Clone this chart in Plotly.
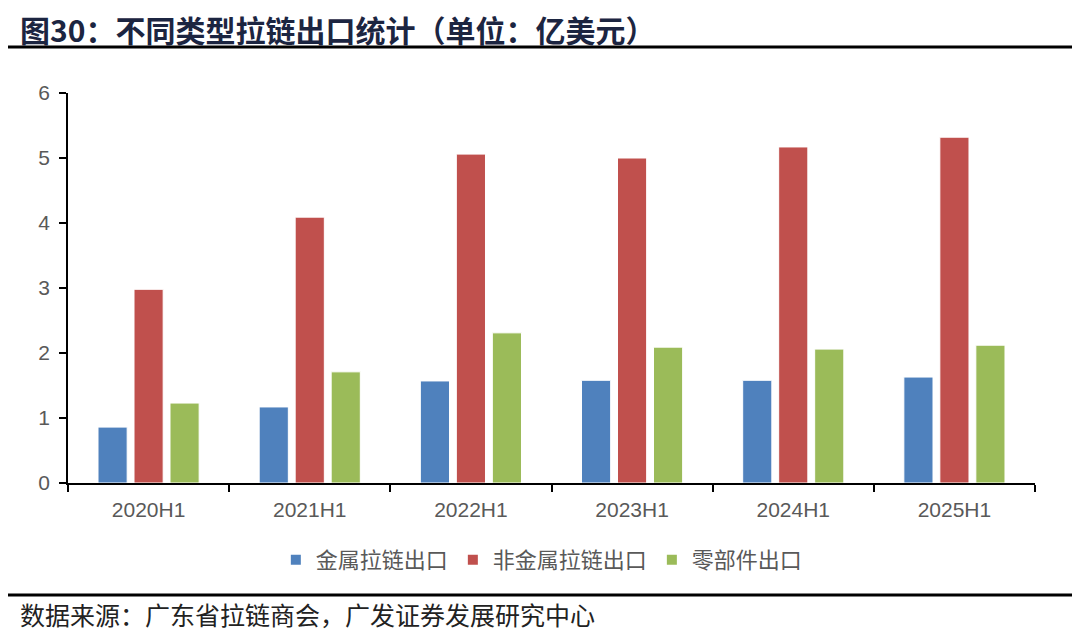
import plotly.graph_objects as go

categories = ["2020H1", "2021H1", "2022H1", "2023H1", "2024H1", "2025H1"]
metal = [0.86, 1.17, 1.57, 1.58, 1.58, 1.63]
nonmetal = [2.98, 4.09, 5.06, 5.00, 5.17, 5.32]
parts = [1.23, 1.71, 2.31, 2.09, 2.06, 2.12]
series_names = ["金属拉链出口", "非金属拉链出口", "零部件出口"]
colors = ["#4F81BD", "#C0504D", "#9BBB59"]
y_ticks = [0, 1, 2, 3, 4, 5, 6]

fig = go.Figure()
for name, vals, c in zip(series_names, [metal, nonmetal, parts], colors):
    fig.add_trace(go.Bar(x=categories, y=vals, name=name,
                         marker=dict(color=c, line=dict(color="white", width=1))))

OFF = 8  # page body margin offset
W, H = 1080, 643
# desired screen positions
left_px, right_px, top_px, bot_px = 68, 1035, 93, 483
ml = left_px - OFF
mt = top_px - OFF
mr = W - (right_px - OFF)
mb = H - (bot_px - OFF)
ph = H - mt - mb
pw = W - ml - mr

def py(px):
    return (H - (px - OFF) - mb) / ph

def pxx(px):
    return ((px - OFF) - ml) / pw

fig.update_layout(
    width=W, height=H,
    margin=dict(l=ml, r=mr, t=mt, b=mb),
    paper_bgcolor="white", plot_bgcolor="white",
    barmode="group", bargap=0.33, bargroupgap=0.19,
    font=dict(family="Liberation Sans, Arial", color="#595959", size=21),
    legend=dict(orientation="h", x=0.49, xanchor="center", y=py(560), yanchor="middle",
                font=dict(family="Noto Sans CJK SC", size=22, color="#595959"),
                itemsizing="constant", traceorder="normal", itemwidth=30),
    xaxis=dict(showline=True, linecolor="black", linewidth=1.5, ticks="outside",
               tickson="boundaries", ticklen=7, tickcolor="black", tickwidth=1.5,
               ticklabelstandoff=7,
               tickfont=dict(size=21, color="#595959")),
    yaxis=dict(range=[0, 6], tickvals=y_ticks, showline=True, linecolor="black", linewidth=1.5,
               ticks="outside", ticklen=7, tickcolor="black", tickwidth=1.5, showgrid=False,
               ticklabelstandoff=5,
               zeroline=False, tickfont=dict(size=21, color="#595959")),
    showlegend=True,
)

# title and footer
fig.add_annotation(text="<b>图30：不同类型拉链出口统计（单位：亿美元）</b>", xref="paper", yref="paper",
                   x=pxx(18), y=py(29), xanchor="left", yanchor="middle",
                   showarrow=False, font=dict(family="Noto Sans CJK SC", size=30, color="#1C2541"))
fig.add_annotation(text="数据来源：广东省拉链商会，广发证券发展研究中心", xref="paper", yref="paper",
                   x=pxx(18), y=py(614), xanchor="left", yanchor="middle",
                   showarrow=False, font=dict(family="Noto Sans CJK SC", size=25, color="#222222"))
for ypx, lw in [(47, 3), (595, 3)]:
    fig.add_shape(type="line", xref="paper", yref="paper",
                  x0=pxx(0), x1=pxx(W + OFF),
                  y0=py(ypx), y1=py(ypx), line=dict(color="black", width=lw))

fig.write_html("out.html")
